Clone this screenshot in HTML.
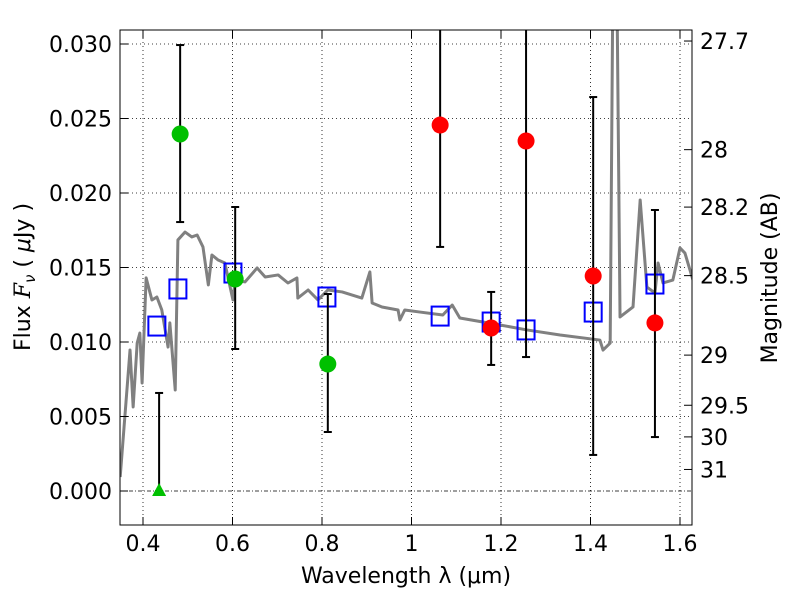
<!DOCTYPE html>
<html><head><meta charset="utf-8"><style>
body{margin:0;background:#fff}
text{font-family:"DejaVu Sans","Liberation Sans",sans-serif;font-size:22px;fill:#000}
</style></head><body>
<svg id="chart" width="800" height="600" viewBox="0 0 800 600" xmlns="http://www.w3.org/2000/svg">
<defs><clipPath id="clip"><rect x="120" y="30" width="572" height="495"/></clipPath></defs>
<rect x="0" y="0" width="800" height="600" fill="#fff"/>
<g id="grid"></g>
<g id="marks" clip-path="url(#clip)"></g>
<g id="axes"></g>
<rect x="120" y="30" width="572" height="495" fill="none" stroke="#000" stroke-width="1"/>
<text x="406" y="583" text-anchor="middle">Wavelength  λ (μm)</text>
<text transform="translate(30,277) rotate(-90)" text-anchor="middle">Flux  <tspan font-style="italic" font-family="DejaVu Serif,serif">F</tspan><tspan font-size="15" dy="5" font-style="italic">ν</tspan><tspan dy="-5">  ( </tspan><tspan font-style="italic">μ</tspan>Jy )</text>
<text transform="translate(777,278) rotate(-90)" text-anchor="middle">Magnitude (AB)</text>
</svg>
<script>
const xTicks=[0.4,0.6,0.8,1.0,1.2,1.4,1.6];
const xTickLabels=["0.4","0.6","0.8","1","1.2","1.4","1.6"];
const yTicks=[0,0.005,0.01,0.015,0.02,0.025,0.03];
const yTickLabels=["0.000","0.005","0.010","0.015","0.020","0.025","0.030"];
const magTicks=[27.7,28,28.2,28.5,29,29.5,30,31];
const magTickLabels=["27.7","28","28.2","28.5","29","29.5","30","31"];
const specW=[0.349,0.371,0.378,0.387,0.393,0.398,0.407,0.420,0.431,0.442,0.456,0.460,0.472,0.478,0.494,0.509,0.521,0.534,0.546,0.554,0.568,0.583,0.601,0.606,0.628,0.655,0.673,0.702,0.724,0.744,0.746,0.769,0.791,0.813,0.845,0.889,0.907,0.912,0.934,0.970,0.974,0.985,1.019,1.070,1.091,1.108,1.198,1.258,1.332,1.421,1.428,1.444,1.450,1.459,1.466,1.495,1.511,1.526,1.544,1.551,1.562,1.584,1.600,1.611,1.629];
const specF=[0.00094,0.00946,0.00564,0.00993,0.0106,0.00725,0.0143,0.01282,0.01302,0.01215,0.00966,0.01128,0.00678,0.01685,0.01738,0.01705,0.01718,0.01638,0.01383,0.01584,0.0155,0.0153,0.01282,0.01416,0.01403,0.01497,0.01436,0.0145,0.01396,0.0143,0.01295,0.01349,0.01282,0.01349,0.01336,0.01295,0.0147,0.01262,0.01235,0.01215,0.01148,0.01215,0.01201,0.01181,0.01248,0.01161,0.01114,0.01081,0.01047,0.01013,0.00946,0.00993,0.034,0.034,0.01168,0.01235,0.01953,0.01369,0.01329,0.0153,0.01396,0.01416,0.01631,0.01597,0.01416];
const modelW=[0.431,0.478,0.601,0.811,1.064,1.178,1.256,1.406,1.544];
const modelF=[0.01107,0.01356,0.01463,0.01302,0.01174,0.01134,0.01081,0.01201,0.01389];
const greenW=[0.483,0.606,0.813];
const greenF=[0.02396,0.01423,0.00852];
const greenLo=[0.01805,0.00953,0.00396];
const greenHi=[0.02993,0.01906,0.01322];
const limW=[0.436];
const limF=[0.0];
const limHi=[0.00658];
const redW=[1.064,1.178,1.256,1.406,1.544];
const redF=[0.02456,0.01094,0.02349,0.01443,0.01128];
const redLo=[0.01638,0.00846,0.00899,0.00242,0.00362];
const redHi=[0.05,0.01336,0.05,0.02644,0.01886];

const NS="http://www.w3.org/2000/svg";
const X=w=>143+(w-0.4)*447.5;
const Y=f=>491-f*14900;
function mk(tag,attrs,parent){const e=document.createElementNS(NS,tag);for(const k in attrs)e.setAttribute(k,attrs[k]);parent.appendChild(e);return e;}
const grid=document.getElementById('grid'),marks=document.getElementById('marks'),axes=document.getElementById('axes');
xTicks.forEach((t,i)=>{
 const g=mk('line',{x1:X(t),x2:X(t),y1:30,y2:525,stroke:'#000','stroke-width':0.8,'stroke-dasharray':'1,3'},grid);
 
 
 mk('line',{x1:X(t),x2:X(t),y1:525,y2:517,stroke:'#000'},axes);
 mk('line',{x1:X(t),x2:X(t),y1:30,y2:38,stroke:'#000'},axes);
 const l=mk('text',{x:X(t),y:551,'text-anchor':'middle'},axes);l.textContent=xTickLabels[i];
 
 
});
yTicks.forEach((t,i)=>{
 const g=mk('line',{x1:120,x2:692,y1:Y(t),y2:Y(t),stroke:'#000','stroke-width':0.8,'stroke-dasharray':t===0?'4,2,1,2':'1,3'},grid);
 
 
 mk('line',{x1:120,x2:128,y1:Y(t),y2:Y(t),stroke:'#000'},axes);
 const l=mk('text',{x:112,y:Y(t)+8,'text-anchor':'end'},axes);l.textContent=yTickLabels[i];
 
 
});
magTicks.forEach((m,i)=>{
 const f=Math.pow(10,(23.9-m)/2.5);const y=Y(f);
 mk('line',{x1:684,x2:692,y1:y,y2:y,stroke:'#000'},axes);
 const l=mk('text',{x:700,y:y+8},axes);l.textContent=magTickLabels[i];
 
 
});
const sp=mk('polyline',{points:specW.map((w,i)=>X(w)+','+Y(specF[i])).join(' '),fill:'none',stroke:'#808080','stroke-width':3,'stroke-linejoin':'round'},marks);


function err(w,lo,hi){
 mk('line',{x1:X(w),x2:X(w),y1:Y(lo),y2:Y(hi),stroke:'#000','stroke-width':2},marks);
 mk('line',{x1:X(w)-4,x2:X(w)+4,y1:Y(lo),y2:Y(lo),stroke:'#000','stroke-width':2},marks);
 mk('line',{x1:X(w)-4,x2:X(w)+4,y1:Y(hi),y2:Y(hi),stroke:'#000','stroke-width':2},marks);
}
modelW.forEach((w,i)=>{
 const r=mk('rect',{x:X(w)-8.5,y:Y(modelF[i])-9.5,width:17,height:19,fill:'none',stroke:'#0000ff','stroke-width':2},marks);
 
 
});
greenW.forEach((w,i)=>{
 err(w,greenLo[i],greenHi[i]);
 const c=mk('circle',{cx:X(w),cy:Y(greenF[i]),r:8.5,fill:'#00c000'},marks);
 
 
});
limW.forEach((w,i)=>{
 err(w,limF[i],limHi[i]);
 const x=X(w),y=Y(limF[i]);
 const p=mk('polygon',{points:`${x},${y-8} ${x-7},${y+5} ${x+7},${y+5}`,fill:'#00c000'},marks);
 
 
});
redW.forEach((w,i)=>{
 err(w,redLo[i],redHi[i]);
 const c=mk('circle',{cx:X(w),cy:Y(redF[i]),r:8.5,fill:'#ff0000'},marks);
 
 
});
</script>
</body></html>
